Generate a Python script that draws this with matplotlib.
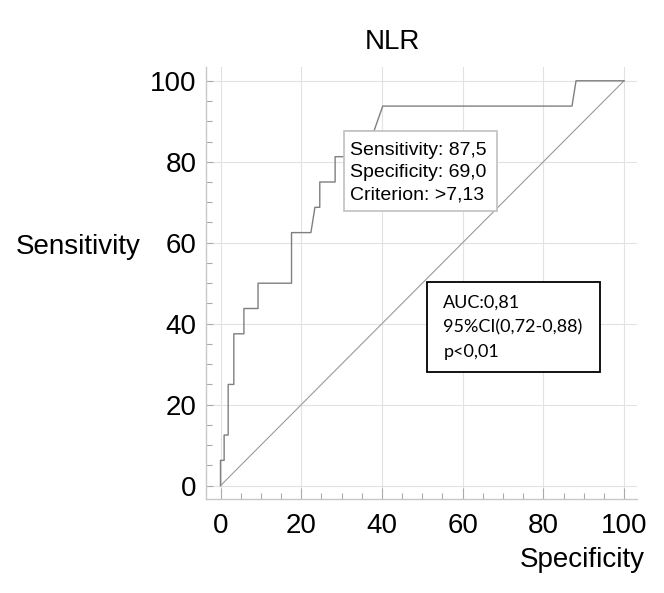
import matplotlib
matplotlib.use('Agg')
import matplotlib.pyplot as plt
from matplotlib.patches import Rectangle

# ROC curve of NLR (100-specificity vs sensitivity)
fpr = [0, 0, 0.9, 0.9, 1.9, 1.9, 3.3, 3.3, 5.8, 5.8, 9.3, 9.3, 17.6, 17.6, 22.4, 23.4,
       24.6, 24.6, 28.4, 28.4, 31.0, 31.0, 38.0, 40.2, 87.1, 88.1, 100]
tpr = [0, 6.25, 6.25, 12.5, 12.5, 25, 25, 37.5, 37.5, 43.75, 43.75, 50, 50, 62.5, 62.5, 68.75,
       68.75, 75, 75, 81.25, 81.25, 87.5, 87.5, 93.75, 93.75, 100, 100]
diag = [0, 100]
ticks = [0, 20, 40, 60, 80, 100]

cut_lines = ["Sensitivity: 87,5", "Specificity: 69,0", "Criterion: >7,13"]
auc_lines = ["AUC:0,81", "95%CI(0,72-0,88)", "p<0,01"]

plt.rcParams['font.family'] = ['Liberation Sans', 'DejaVu Sans']

fig = plt.figure(figsize=(6.64, 5.93), dpi=100)
ax = fig.add_axes([0.3102, 0.1585, 0.6491, 0.7285])

ax.plot(diag, diag, color='#9a9a9a', lw=0.8, zorder=2)
ax.plot(fpr, tpr, color='#7f7f7f', lw=1.0, zorder=3)

ax.set_xlim(-3.6, 103.2)
ax.set_ylim(-3.3, 103.4)
ax.set_xticks(ticks)
ax.set_yticks(ticks)
ax.set_xticks(range(0, 101, 5), minor=True)
ax.set_yticks(range(0, 101, 5), minor=True)
ax.grid(True, which='major', color='#e2e2e2', lw=0.8, zorder=0)
ax.set_axisbelow(True)

for s in ['top', 'right']:
    ax.spines[s].set_visible(False)
for s in ['left', 'bottom']:
    ax.spines[s].set_color('#c8c8c8')
    ax.spines[s].set_linewidth(1.0)

ax.tick_params(axis='x', which='major', direction='in', length=8, width=0.8,
               color='#aaaaaa', labelsize=20, pad=10)
ax.tick_params(axis='x', which='minor', direction='in', length=4, width=0.8, color='#aaaaaa')
ax.tick_params(axis='y', which='major', direction='in', length=5, width=0.8,
               color='#aaaaaa', labelsize=20, pad=7)
ax.tick_params(axis='y', which='minor', direction='in', length=4, width=0.8, color='#aaaaaa')

# cut-off box (its top edge hides the 87,5 step, as in the original)
ax.add_patch(Rectangle((30.6, 67.9), 37.9, 19.65, facecolor='white', edgecolor='#c0c0c0',
                       lw=1.2, zorder=4))
for txt, yy in zip(cut_lines, [82.9, 77.3, 71.8]):
    ax.text(32.2, yy, txt, fontsize=14, ha='left', va='center', zorder=5)

# AUC box
ax.add_patch(Rectangle((51.2, 28.0), 42.8, 22.2, facecolor='white', edgecolor='black',
                       lw=1.3, zorder=4))
for txt, yy in zip(auc_lines, [45.1, 39.0, 33.1]):
    ax.text(55.2, yy, txt, fontsize=13, ha='left', va='center', zorder=5,
            family=['Lato', 'DejaVu Sans'])

fig.text(392 / 664, 1 - 42 / 593, "NLR", fontsize=20, ha='center', va='center')
fig.text(16 / 664, 1 - 247 / 593, "Sensitivity", fontsize=20, ha='left', va='center')
fig.text(645 / 664, 1 - 560 / 593, "Specificity", fontsize=20, ha='right', va='center')

fig.savefig('out.png', dpi=100)
